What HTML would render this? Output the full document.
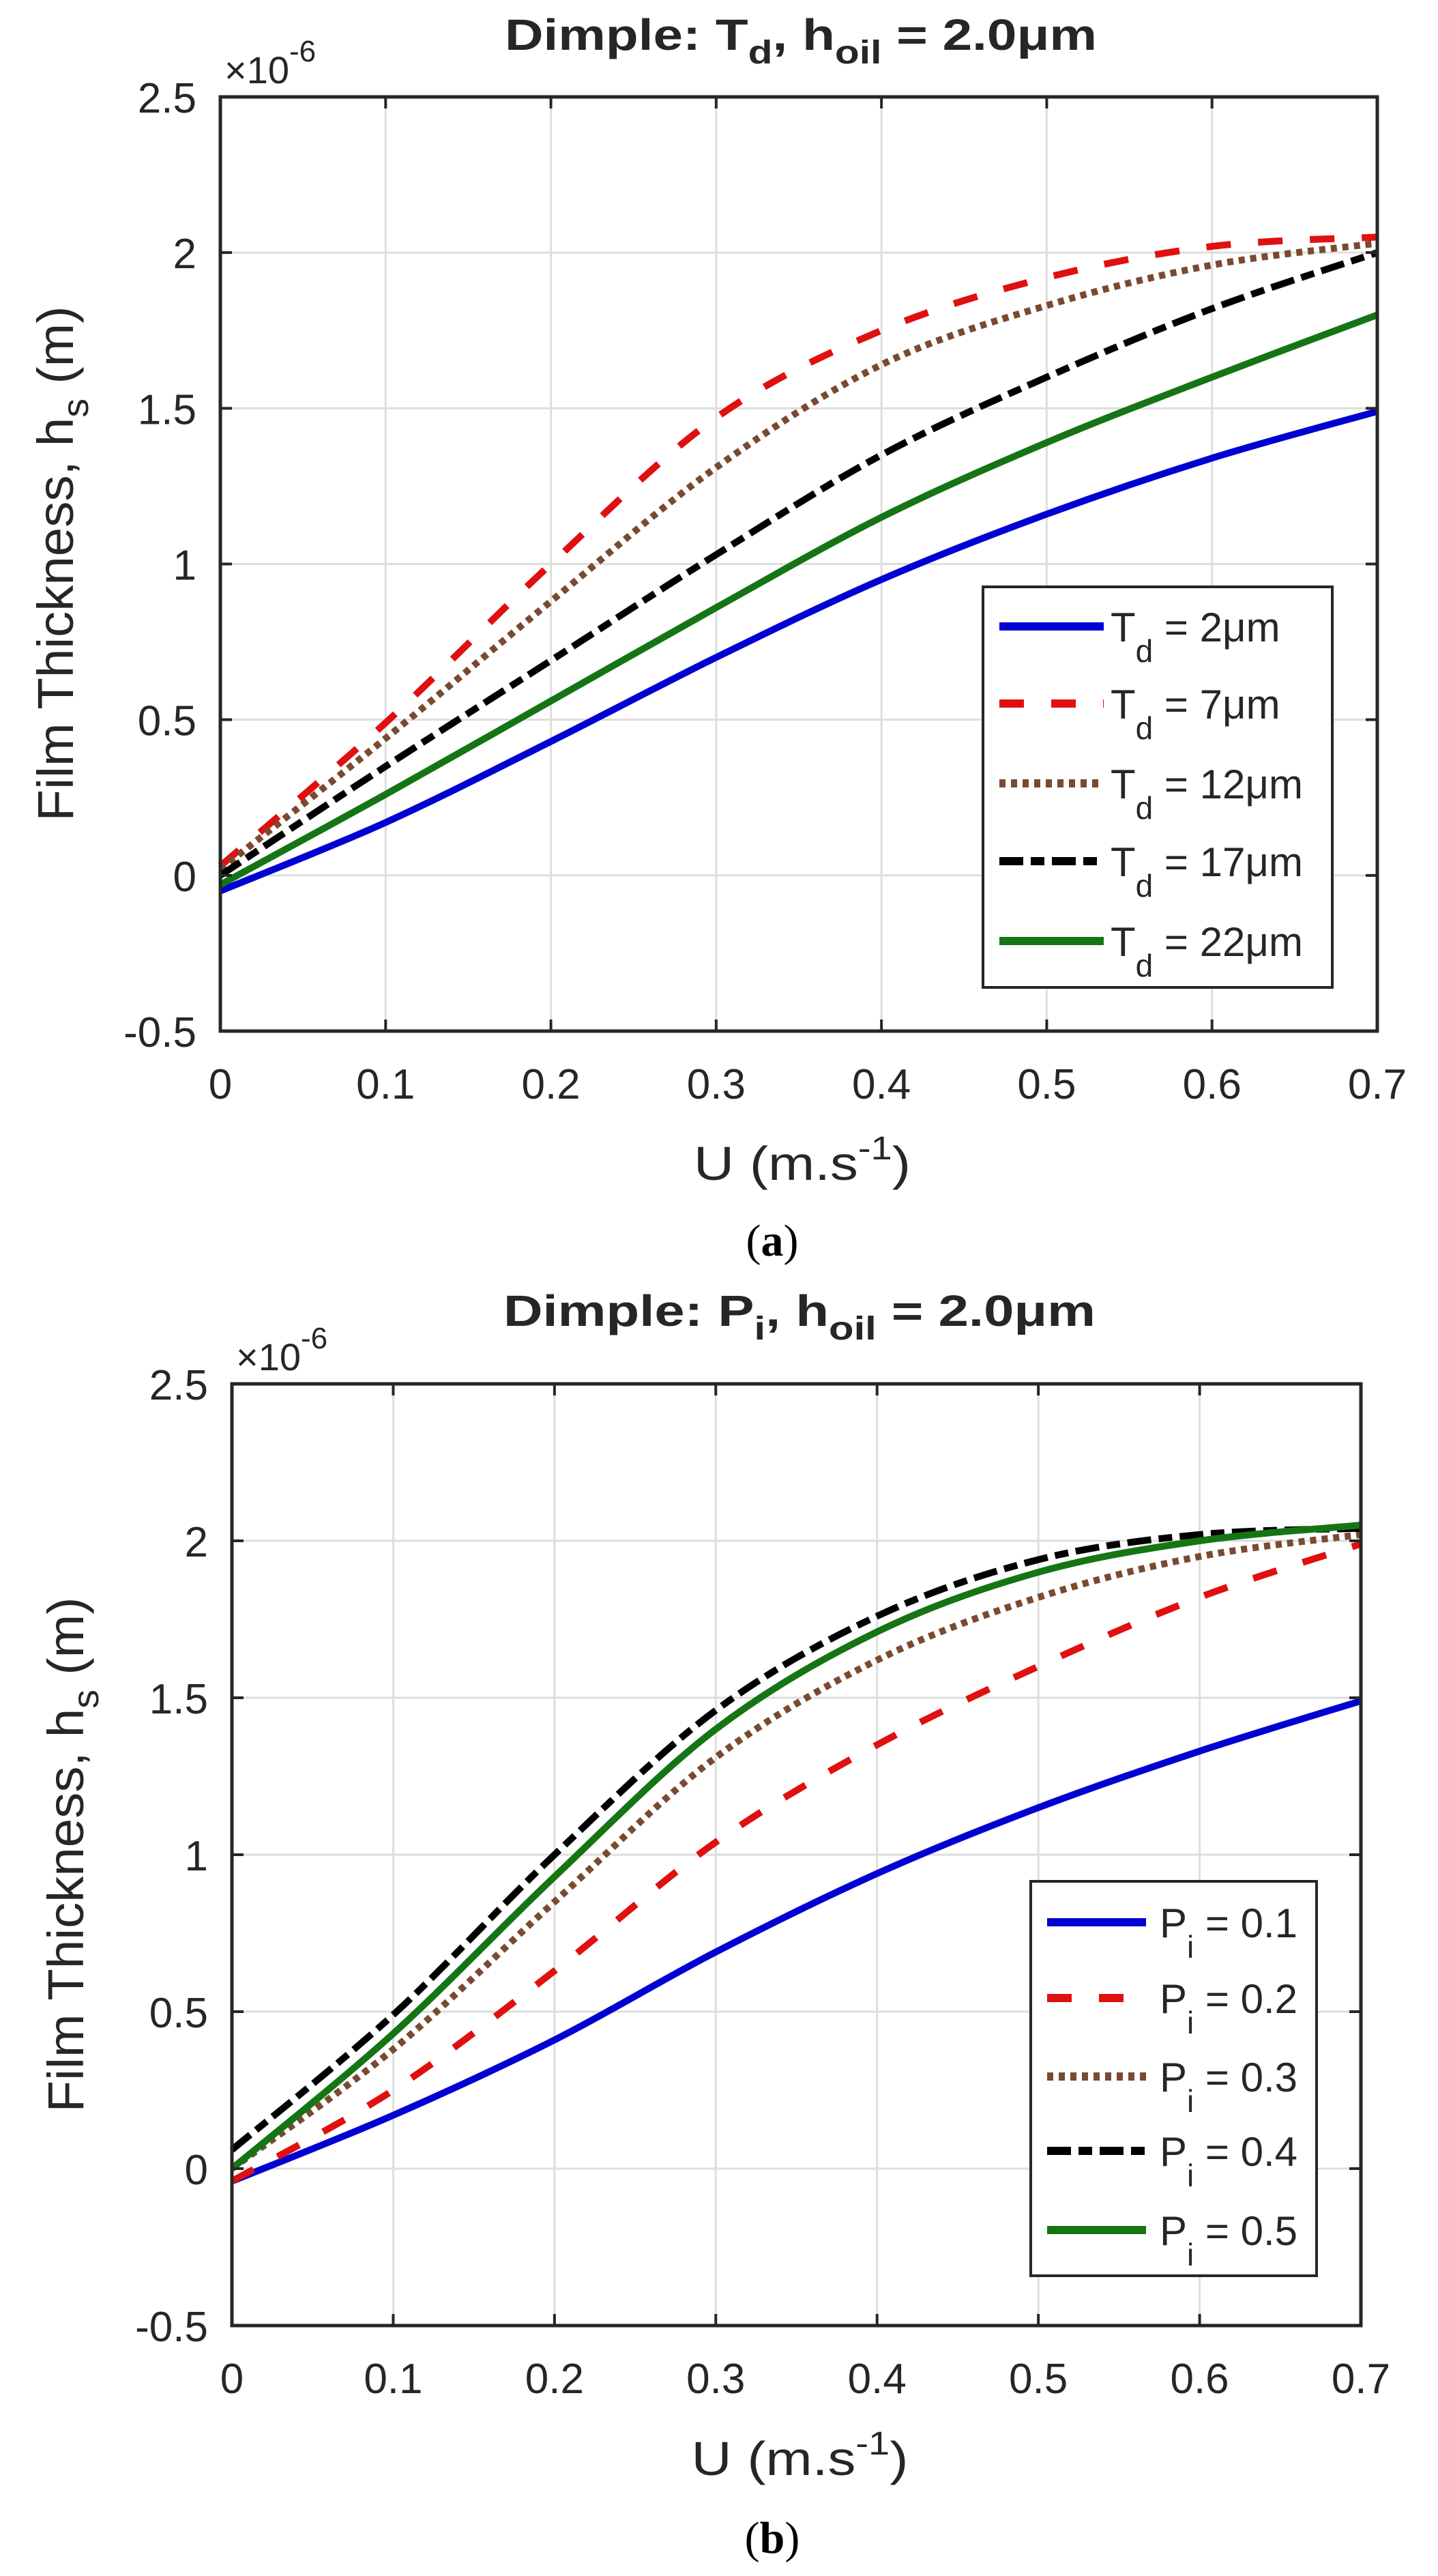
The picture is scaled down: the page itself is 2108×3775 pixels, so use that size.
<!DOCTYPE html>
<html><head><meta charset="utf-8">
<style>
html,body{margin:0;padding:0;background:#fff;}
svg{display:block;}
text{font-family:"Liberation Sans",Arial,sans-serif;fill:#262626;}
.serif{font-family:"Liberation Serif","Times New Roman",serif;fill:#000;}
</style></head>
<body>
<svg id="fig" width="2108" height="3775" viewBox="0 0 2108 3775" xmlns="http://www.w3.org/2000/svg"></svg>
<script>
// ---- data ----
const uValues = [0, 0.1, 0.2, 0.3, 0.4, 0.5, 0.6, 0.7];
const xTickLabels = ["0","0.1","0.2","0.3","0.4","0.5","0.6","0.7"];
const yTickValues = [-0.5, 0, 0.5, 1, 1.5, 2, 2.5];
const yTickLabels = ["-0.5","0","0.5","1","1.5","2","2.5"];
// chart (a): T_d series (x 1e-6 m)
const aLabels = ["2", "7", "12", "17", "22"];
const aTd2  = [-0.05, 0.17, 0.43, 0.70, 0.95, 1.16, 1.34, 1.49];
const aTd7  = [0.03, 0.49, 1.00, 1.47, 1.75, 1.92, 2.02, 2.05];
const aTd12 = [0.02, 0.44, 0.88, 1.31, 1.64, 1.83, 1.96, 2.03];
const aTd17 = [0.00, 0.35, 0.69, 1.03, 1.35, 1.60, 1.82, 2.00];
const aTd22 = [-0.03, 0.26, 0.56, 0.86, 1.15, 1.39, 1.60, 1.80];
// chart (b): P_i series
const bLabels = ["0.1", "0.2", "0.3", "0.4", "0.5"];
const bP1 = [-0.04, 0.17, 0.41, 0.69, 0.94, 1.15, 1.33, 1.49];
const bP2 = [-0.04, 0.25, 0.63, 1.04, 1.35, 1.60, 1.82, 1.99];
const bP3 = [0.00, 0.38, 0.85, 1.31, 1.62, 1.82, 1.95, 2.02];
const bP4 = [0.06, 0.49, 1.00, 1.46, 1.76, 1.94, 2.02, 2.04];
const bP5 = [0.00, 0.43, 0.93, 1.40, 1.71, 1.90, 2.00, 2.05];

const NS = "http://www.w3.org/2000/svg";
const fig = document.getElementById('fig');
function mk(tag, attrs, parent){
  const e = document.createElementNS(NS, tag);
  for (const k in attrs) e.setAttribute(k, attrs[k]);
  (parent || fig).appendChild(e);
  return e;
}
const styles = [
  {color:"#0000d2", dash:""},
  {color:"#e01010", dash:"36 40"},
  {color:"#7a4a30", dash:"9 8"},
  {color:"#000000", dash:"35 11 20 11"},
  {color:"#157515", dash:""}
];
function curvePath(xs, ys){
  let d = "M" + xs[0] + "," + ys[0];
  for (let i = 0; i < xs.length - 1; i++){
    const x0 = xs[Math.max(i-1,0)], y0 = ys[Math.max(i-1,0)];
    const x1 = xs[i], y1 = ys[i], x2 = xs[i+1], y2 = ys[i+1];
    const x3 = xs[Math.min(i+2,xs.length-1)], y3 = ys[Math.min(i+2,xs.length-1)];
    const c1x = x1 + (x2-x0)/6, c1y = y1 + (y2-y0)/6;
    const c2x = x2 - (x3-x1)/6, c2y = y2 - (y3-y1)/6;
    d += " C" + c1x + "," + c1y + " " + c2x + "," + c2y + " " + x2 + "," + y2;
  }
  return d;
}

function drawChart(cfg){
  const g = mk('g', {});
  
  
  const L = cfg.left, R = cfg.right, T = cfg.top, B = cfg.bottom;
  const xS = v => L + (v - 0) / 0.7 * (R - L);
  const yS = v => B - (v + 0.5) / 3 * (B - T);

  // grid
  uValues.forEach((u, i) => {
    if (i === 0 || i === uValues.length-1) return;
    const ln = mk('line', {x1:xS(u), x2:xS(u), y1:T, y2:B, stroke:"#dedede", "stroke-width":3}, g);
    
    
  });
  yTickValues.forEach((v, i) => {
    if (i === 0 || i === yTickValues.length-1) return;
    const ln = mk('line', {x1:L, x2:R, y1:yS(v), y2:yS(v), stroke:"#dedede", "stroke-width":3}, g);
    
    
  });

  // series
  cfg.series.forEach((s, k) => {
    const xs = uValues.map(xS), ys = s.map(yS);
    const p = mk('path', {d:curvePath(xs, ys), fill:"none", stroke:styles[k].color, "stroke-width":10,
      "stroke-dasharray":styles[k].dash, "stroke-linejoin":"round"}, g);
    
    
  });

  // axes box
  const box = mk('rect', {x:L, y:T, width:R-L, height:B-T, fill:"none", stroke:"#262626", "stroke-width":5}, g);
  
  

  // ticks & labels
  uValues.forEach((u, i) => {
    const x = xS(u);
    mk('line', {x1:x, x2:x, y1:B, y2:B-17, stroke:"#262626", "stroke-width":4}, g);
    mk('line', {x1:x, x2:x, y1:T, y2:T+17, stroke:"#262626", "stroke-width":4}, g);
    const t = mk('text', {x:x, y:cfg.xTickBase, "font-size":62, "text-anchor":"middle"}, g);
    t.textContent = xTickLabels[i];
    
    
  });
  yTickValues.forEach((v, i) => {
    const y = yS(v);
    mk('line', {x1:L, x2:L+17, y1:y, y2:y, stroke:"#262626", "stroke-width":4}, g);
    mk('line', {x1:R, x2:R-17, y1:y, y2:y, stroke:"#262626", "stroke-width":4}, g);
    const t = mk('text', {x:cfg.yTickRight, y:y+23, "font-size":62, "text-anchor":"end"}, g);
    t.textContent = yTickLabels[i];
    
    
  });

  // exponent
  const ex = mk('text', {x:L+6, y:T-20, "font-size":56}, g);
  
  
  ex.innerHTML = '×10<tspan dy="-32" font-size="44">-6</tspan>';

  // title
  const tt = mk('text', {x:cfg.titleX, y:cfg.titleY, "font-size":64, "font-weight":"bold", "text-anchor":"middle", fill:"#000", textLength:868, lengthAdjust:"spacingAndGlyphs"}, g);
  
  
  tt.innerHTML = 'Dimple: ' + cfg.sym + '<tspan dy="20" font-size="48">' + cfg.sub + '</tspan><tspan dy="-20">, h</tspan><tspan dy="20" font-size="48">oil</tspan><tspan dy="-20"> = 2.0μm</tspan>';

  // y title
  const yt = mk('text', {transform:"translate(" + cfg.yTitleX + "," + cfg.yTitleY + ") rotate(-90)", "font-size":74, "text-anchor":"middle", textLength:755, lengthAdjust:"spacingAndGlyphs"}, g);
  
  
  yt.innerHTML = 'Film Thickness, h<tspan dy="22" font-size="54">s</tspan><tspan dy="-22"> (m)</tspan>';

  // x title
  const xt = mk('text', {x:(L+R)/2 + 5, y:cfg.xTitleBase, "font-size":70, "text-anchor":"middle", textLength:318, lengthAdjust:"spacingAndGlyphs"}, g);
  
  
  xt.innerHTML = 'U (m.s<tspan dy="-30" font-size="48">-1</tspan><tspan dy="30">)</tspan>';

  // legend
  const lg = mk('g', {}, g);
  
  
  const lb = cfg.legend;
  mk('rect', {x:lb.x, y:lb.y, width:lb.w, height:lb.h, fill:"#fff", stroke:"#262626", "stroke-width":4}, lg);
  cfg.labels.forEach((lab, k) => {
    const ey = lb.rows[k];
    const e = mk('g', {}, lg);
    
    
    mk('line', {x1:lb.lx1, x2:lb.lx2, y1:ey, y2:ey, stroke:styles[k].color, "stroke-width":12, "stroke-dasharray":styles[k].dash}, e);
    const t = mk('text', {x:lb.tx, y:ey+22, "font-size":60}, e);
    t.innerHTML = cfg.sym + '<tspan dy="30" font-size="46">' + cfg.sub + '</tspan><tspan dy="-30"> = ' + lab + cfg.unit + '</tspan>';
  });

  // panel caption
  const cap = mk('text', {x:1132, y:cfg.capY, "font-size":66, "text-anchor":"middle", class:"serif"}, g);
  
  
  cap.innerHTML = '(<tspan font-weight="bold">' + cfg.capLetter + '</tspan>)';
}

drawChart({
  name:"chart-a", prefix:"td", left:323, right:2019, top:142, bottom:1511,
  series:[aTd2, aTd7, aTd12, aTd17, aTd22], labels:aLabels, sym:"T", sub:"d", unit:"μm",
  xTickBase:1610, yTickRight:288, titleX:1174, titleY:73, yTitleX:107, yTitleY:826, xTitleBase:1729,
  legend:{x:1441, y:860, w:512, h:587, rows:[918,1031,1148,1262,1379], lx1:1465, lx2:1618, tx:1628},
  capY:1840, capLetter:"a"
});
drawChart({
  name:"chart-b", prefix:"pi", left:340, right:1995, top:2028, bottom:3408,
  series:[bP1, bP2, bP3, bP4, bP5], labels:bLabels, sym:"P", sub:"i", unit:"",
  xTickBase:3507, yTickRight:305, titleX:1172, titleY:1943, yTitleX:122, yTitleY:2718, xTitleBase:3627,
  legend:{x:1511, y:2757, w:419, h:578, rows:[2817,2928,3043,3152,3268], lx1:1535, lx2:1680, tx:1700},
  capY:3741, capLetter:"b"
});
</script>
</body></html>
